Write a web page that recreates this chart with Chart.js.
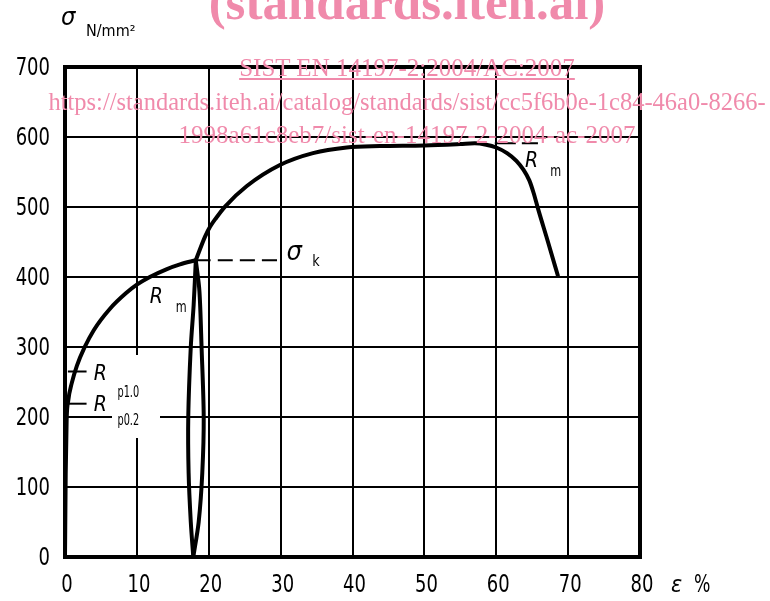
<!DOCTYPE html>
<html>
<head>
<meta charset="utf-8">
<script src="https://cdn.jsdelivr.net/npm/chart.js@4/dist/chart.umd.min.js"></script>
<style>
  body { margin: 0; background: #fff; }
  #wrap { position: relative; width: 770px; height: 601px; overflow: hidden; }
  .wm { position: absolute; left: 0; width: 814px; text-align: center; color: #f08aab;
        font-family: 'Liberation Serif', 'Times New Roman', serif; white-space: nowrap; pointer-events: none; }
</style>
</head>
<body>
<div id="wrap">
  <canvas id="myChart" width="770" height="601"></canvas>
  <div class="wm" style="top:-27px; font-size:51px; font-weight:bold;">(standards.iteh.ai)</div>
  <div class="wm" style="top:54px; font-size:25px; text-decoration:underline;">SIST EN 14197-2:2004/AC:2007</div>
  <div class="wm" style="top:88px; font-size:24.5px;">https://standards.iteh.ai/catalog/standards/sist/cc5f6b0e-1c84-46a0-8266-</div>
  <div class="wm" style="top:121px; font-size:25px;">1998a61c8eb7/sist-en-14197-2-2004-ac-2007</div>
</div>
<script>
'use strict'

// 応力-ひずみ曲線 (ε %, σ N/mm2)
var xTicks = [0, 10, 20, 30, 40, 50, 60, 70, 80];
var yTicks = [0, 100, 200, 300, 400, 500, 600, 700];

// 立ち上がり部 (0 → σk)
var riseStrain = [0, 0.1, 0.23, 0.46, 0.93, 1.65, 2.7, 4.0, 6.2, 8.5, 10, 11.8, 14.1, 16, 18.2];
var riseStress = [0, 120, 196, 224, 248, 273, 299, 324, 354, 377, 389, 400, 411, 418, 424];

// σk 以降 → 破断
var upperStrain = [18.2, 19.5, 20.2, 21, 22.3, 25.3, 29.9, 34.5, 39.2, 43.8, 50, 55, 57, 58.6, 60, 61.5, 62.8, 63.8, 64.6, 65.2, 65.8, 67.2, 68.6];
var upperStress = [424, 458, 472, 484, 501, 530, 560, 577, 585, 587, 588, 590, 591, 589, 585, 577, 566, 553, 538, 520, 498, 450, 401];

// 除荷・再負荷ループ
var loopLeftStrain = [18.2, 17.9, 17.5, 17.15, 17.2, 17.5, 17.85];
var loopLeftStress = [424, 360, 300, 200, 120, 50, 0];
var loopRightStrain = [18.2, 18.7, 19.0, 19.3, 19.1, 18.6, 17.85];
var loopRightStress = [424, 380, 300, 200, 120, 50, 0];

// 指示線
var rp10Strain = [0.4, 3.0];   var rp10Stress = [265, 265];
var rp02Strain = [0.4, 3.0];   var rp02Stress = [219, 219];
var sigmaKStrain = [18.2, 30]; var sigmaKStress = [424, 424];
var rmStrain = [59.8, 65.8];   var rmStress = [591, 591];

var baseFont = "'DejaVu Sans', sans-serif";

function toPoints(xs, ys) {
    var pts = [];
    for (var i = 0; i < xs.length; i++) {
        pts.push({ x: xs[i], y: ys[i] });
    }
    return pts;
}

function lineSet(xs, ys, width, dash, mode) {
    return {
        data: toPoints(xs, ys),
        showLine: true,
        borderColor: '#000',
        borderWidth: width,
        borderDash: dash || [],
        pointRadius: 0,
        tension: 0.3,
        cubicInterpolationMode: mode || 'default',
        fill: false,
        clip: false
    };
}

// 横方向に詰めた文字 (細字フォント風)
function drawText(ctx, s, x, y, font, sx, align) {
    ctx.save();
    ctx.font = font;
    var w = ctx.measureText(s).width * sx;
    var x0 = x;
    if (align === 'right') x0 = x - w;
    if (align === 'center') x0 = x - w / 2;
    ctx.translate(x0, y);
    ctx.scale(sx, 1);
    ctx.textAlign = 'left';
    ctx.fillText(s, 0, 0);
    ctx.restore();
}

var framePlugin = {
    id: 'frame',
    afterDatasetsDraw: function (chart) {
        var ctx = chart.ctx;
        var a = chart.chartArea;
        var xs = chart.scales.x, ys = chart.scales.y;
        function px(v) { return xs.getPixelForValue(v); }
        function py(v) { return ys.getPixelForValue(v); }
        ctx.save();
        // ラベル背景 (グリッド線を切る)
        ctx.fillStyle = '#fff';
        ctx.fillRect(112, 355, 48, 83);
        ctx.strokeStyle = '#000';
        ctx.lineWidth = 4;
        ctx.strokeRect(a.left, a.top, a.right - a.left, a.bottom - a.top);

        ctx.fillStyle = '#000';

        // 目盛りラベル
        var tickF = "25px " + baseFont;
        ctx.textBaseline = 'middle';
        yTicks.forEach(function (v) {
            drawText(ctx, String(v), 50, py(v) + 1, tickF, 0.72, 'right');
        });
        xTicks.forEach(function (v) {
            drawText(ctx, String(v), px(v) + 2, 585, tickF, 0.72, 'center');
        });
        ctx.textBaseline = 'alphabetic';

        var big = "italic 21px " + baseFont;
        var sub = "16px " + baseFont;
        var small = "15px " + baseFont;
        drawText(ctx, 'R', px(11.8), py(363), big, 0.9);
        drawText(ctx, 'm', px(15.4), py(350), sub, 0.7);
        drawText(ctx, 'σ', px(30.8), py(424), "italic 27px " + baseFont, 0.9);
        drawText(ctx, 'k', px(34.4), py(416), sub, 0.8);
        drawText(ctx, 'R', px(64.0), py(557), big, 0.9);
        drawText(ctx, 'm', px(67.5), py(545), sub, 0.7);
        drawText(ctx, 'R', px(4.0), py(253), big, 0.9);
        drawText(ctx, 'p1.0', px(7.3), py(229), small, 0.65);
        drawText(ctx, 'R', px(4.0), py(208), big, 0.9);
        drawText(ctx, 'p0.2', px(7.3), py(188), small, 0.65);
        // 軸タイトル
        drawText(ctx, 'σ', 61, 25, "italic 24px " + baseFont, 0.95);
        drawText(ctx, 'N/mm²', 86, 36, "16px " + baseFont, 0.9);
        drawText(ctx, 'ε', 671, 592, "italic 23px " + baseFont, 0.9);
        drawText(ctx, '%', 694, 592, "24px " + baseFont, 0.72);
        ctx.restore();
    }
};

window.onload = function () {
    var ctx = document.getElementById('myChart');
    new Chart(ctx, {
        type: 'scatter',
        data: {
            datasets: [
                lineSet(riseStrain, riseStress, 4, null, 'monotone'),
                lineSet(upperStrain, upperStress, 4, null, 'monotone'),
                lineSet(loopLeftStrain, loopLeftStress, 4),
                lineSet(loopRightStrain, loopRightStress, 4),
                lineSet(rp10Strain, rp10Stress, 2),
                lineSet(rp02Strain, rp02Stress, 2),
                lineSet(sigmaKStrain, sigmaKStress, 2, [15, 7]),
                lineSet(rmStrain, rmStress, 2, [21, 6])
            ]
        },
        options: {
            responsive: false,
            animation: false,
            layout: { padding: { left: 0, top: 67, right: 130, bottom: 0 } },
            plugins: { legend: { display: false }, tooltip: { enabled: false } },
            scales: {
                x: {
                    type: 'linear',
                    min: 0, max: 80,
                    afterFit: function (s) { s.height = 44; },
                    afterBuildTicks: function (s) { s.ticks = xTicks.map(function (v) { return { value: v }; }); },
                    grid: { color: '#000', lineWidth: 2, drawTicks: false },
                    border: { display: false },
                    ticks: { display: false }
                },
                y: {
                    type: 'linear',
                    min: 0, max: 700,
                    afterFit: function (s) { s.width = 65; },
                    afterBuildTicks: function (s) { s.ticks = yTicks.map(function (v) { return { value: v }; }); },
                    grid: { color: '#000', lineWidth: 2, drawTicks: false },
                    border: { display: false },
                    ticks: { display: false }
                }
            }
        },
        plugins: [framePlugin]
    });
};
</script>
</body>
</html>
